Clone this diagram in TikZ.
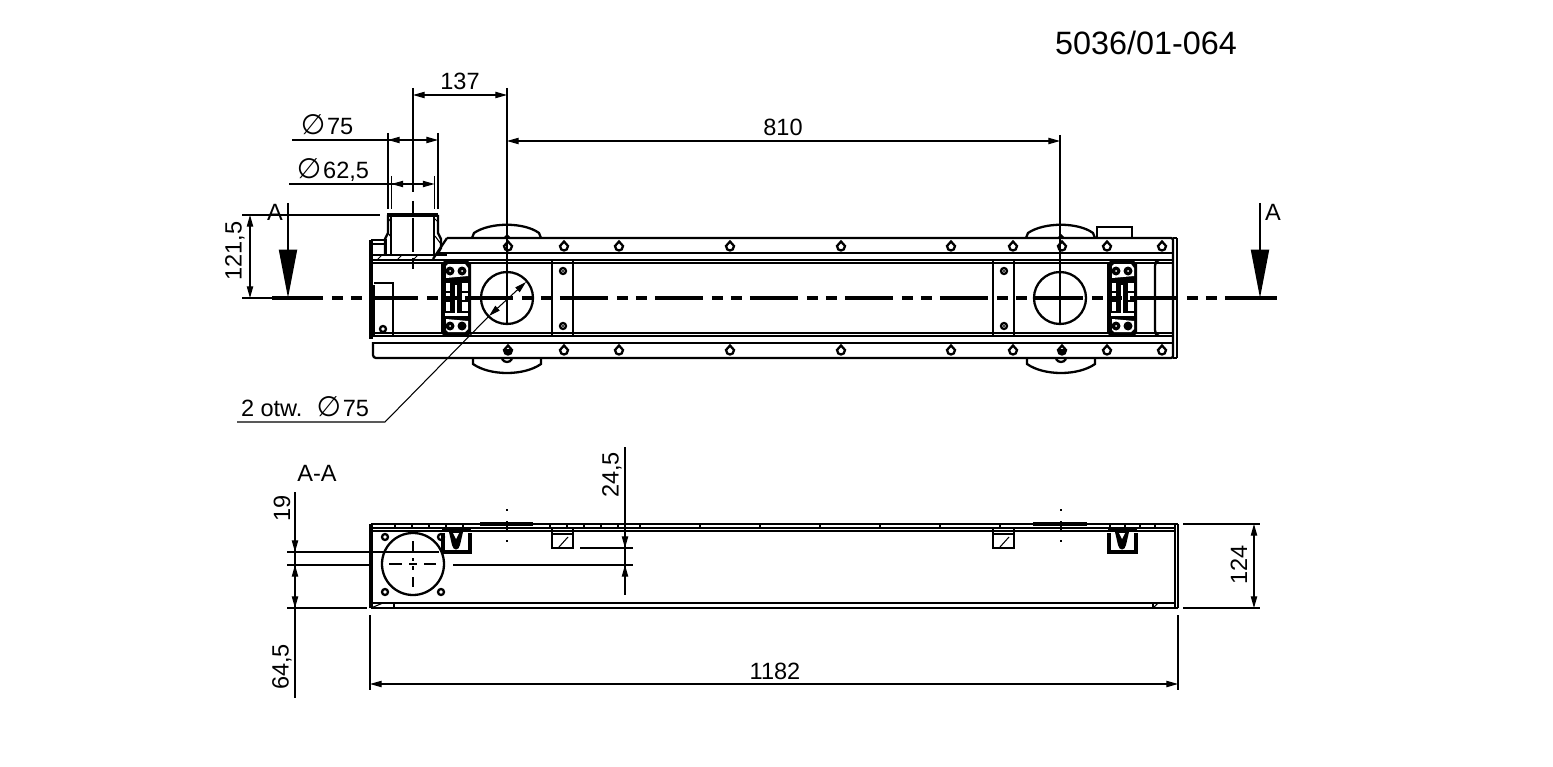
\documentclass[tikz,border=0pt]{standalone}
\usepackage{fontspec}
\setmainfont{Liberation Sans}
\newfontfamily\symfont{DejaVu Sans}
\usetikzlibrary{arrows.meta}
\newcommand{\dia}{{\fontsize{16}{15}\selectfont\symfont\char"2205}}
\tikzset{
  geom/.style={draw=black, line width=1.3pt},
  heavy/.style={draw=black, line width=2.1pt},
  helper/.style={draw=black, line width=0.6pt},
  axisln/.style={draw=black, line width=1.9pt},
  axisdash/.style={axisln, dash pattern=on 27.32pt off 5.12pt on 6.26pt off 4.55pt on 6.26pt off 4.55pt},
  dimln/.style={helper, {Triangle[length=6.6pt,width=3.6pt]}-{Triangle[length=6.6pt,width=3.6pt]}},
  dimend/.style={helper, -{Triangle[length=6.6pt,width=3.6pt]}},
  cutln/.style={draw=black, line width=1.2pt, -{Triangle[length=27.5pt,width=10.2pt]}},
  lab/.style={text=black, font=\fontsize{13.4}{15}\selectfont, inner sep=0pt},
  title/.style={text=black, font=\fontsize{18.4}{20}\selectfont, inner sep=0pt},
}

\begin{document}
\begin{tikzpicture}[x=0.02cm,y=-0.02cm]
\useasboundingbox (0,0) rectangle (1553,767);
\node[title] (drawno) at (1146,43) {5036/01-064};

% top view, rails
\draw[geom] (447,238)--(1171,238) to[out=0,in=90] (1173,240)--(1173,356) to[out=-90,in=0] (1171,358)--(376,358) to[out=180,in=-90] (373,355)--(373,342);
\draw[geom] (1177,238)--(1177,358);
\draw[helper] (1173,238)--(1177,238) (1173,358)--(1177,358);
\draw[geom] (437,253)--(1173,253);
\draw[geom] (372,260)--(1173,260);
\draw[helper] (372,263)--(1173,263);
\draw[helper] (372,333)--(1173,333);
\draw[geom] (372,336)--(1173,336);
\draw[geom] (373,343)--(1173,343);
\draw[geom] (447,238)--(433,259);
\draw[heavy] (371,240)--(371,339);
\draw[geom] (371,240)--(386,240)--(386,255);
\draw[geom] (371,244)--(386,244);
\draw[geom] (371,255)--(447,255);

% inlet stub
\draw[geom] (385,255)--(385,239)--(388,233)--(388,215);
\draw[heavy] (387,215)--(438,215);
\draw[geom] (438,215)--(438,233)--(441,239)--(441,248)--(437,255);
\draw[geom] (391,215)--(391,255);
\draw[geom] (434,215)--(434,255);
\draw[helper] (388,218)--(391,222) (388,233)--(391,237) (434,218)--(438,222) (435,236)--(441,244);
\draw[helper] (382,255)--(377,260) (402,255)--(397,260) (418,255)--(413,260);

% side details
\draw[helper] (374,283)--(393,283)--(393,336);
\draw[geom] (374,285)--(374,336);
\draw[geom] (383,329) circle (3);
\draw[geom] (1159,336) to[out=180,in=-90] (1155,330)--(1155,266) to[out=90,in=180] (1159,260);
\draw[geom] (1097,238)--(1097,227)--(1132,227)--(1132,238);

% plates and bolts
\foreach \px in {552,993} {
  \draw[geom] (\px,260) rectangle (\px+21,336);
  \foreach \py in {271,326} {
    \draw[geom] (\px+11,\py) circle (3);
    \fill (\px+11,\py) circle (1.2);
  }
}
\draw[geom] (507,298) circle (26);
\draw[geom] (1060,298) circle (26);

% handles
\foreach \cx in {0,666} {
\begin{scope}[shift={(\cx,0)}]
  \fill[black] (441,264)--(444,261)--(468,261)--(471,264)--(471,333)--(468,336)--(444,336)--(441,333)--cycle;
  \fill[white] (446,266)--(448,264)--(465,264)--(468,268)--(468,276)--(446,278)--cycle;
  \fill[white] (446,319)--(468,321)--(468,329)--(465,332)--(448,332)--(446,330)--cycle;
  \foreach \hy/\hh in {283/8,293/7,302/9} {
    \fill[white] (446,\hy) rectangle (450,\hy+\hh);
    \fill[white] (462,\hy) rectangle (468,\hy+\hh);
  }
  \fill[white] (445,313) rectangle (468,316);
  \fill[white] (455,285) rectangle (457,314);
  \foreach \bx in {450,462} {
    \foreach \by in {271,326} {
      \fill[black] (\bx,\by) circle (4.5);
    }
    \fill[white] (\bx,271) circle (1);
  }
  \fill[white] (450,326) circle (1);
\end{scope}
}

% rail holes and hold-down lugs
\foreach \hx in {508,564,619,730,841,951,1013,1062,1107,1162} {
  \draw[geom] (\hx,241.5)--(\hx+4,246) .. controls (\hx+4,252) and (\hx-4,252) .. (\hx-4,246)--cycle;
  \draw[geom] (\hx,345.5)--(\hx+4,350) .. controls (\hx+4,356) and (\hx-4,356) .. (\hx-4,350)--cycle;
}
\foreach \lx in {0,554} {
\begin{scope}[shift={(\lx,0)}]
  \draw[geom] (472,238)--(474,233) .. controls (490,222) and (524,222) .. (539,233)--(541,238);
  \draw[geom] (473,359)--(473,364) .. controls (490,376) and (524,376) .. (541,364)--(541,359);
  \fill[black] (503,238)--(507,234)--(511,238)--cycle;
  \draw[geom] (502,359) .. controls (504,363) and (510,363) .. (512,359);
  \fill[black] (504,349) rectangle (512,353);
\end{scope}
}

% centre line and cut arrows
\draw[axisdash] (275,298)--(1225,298);
\draw[axisln] (272,298)--(323,298);
\draw[axisln] (1225,298)--(1277,298);
\draw[cutln] (288,203)--(288,298);
\draw[cutln] (1260,203)--(1260,298);
\node[lab] (cutl) at (275,212) {A};
\node[lab] (cutr) at (1273,212) {A};

% dimensions, top view
\draw[helper] (413,88)--(413,192);
\draw[helper] (413,201)--(413,213) (413,218)--(413,252) (413,258)--(413,269);
\draw[helper] (507,88)--(507,325);
\draw[helper] (1060,135)--(1060,323);
\draw[dimln] (413,95)--(507,95);
\node[lab] (d137) at (460,81) {137};
\draw[dimln] (507,141)--(1060,141);
\node[lab] (d810) at (783,127) {810};
\draw[helper] (388,133)--(388,209) (438,133)--(438,209);
\draw[dimend] (292,140)--(438,140);
\draw[dimend] (413,140)--(388,140);
\node[lab] (d75) at (327,125) {\dia\hspace{1pt}75};
\draw[helper] (391.5,176)--(391.5,209) (434.5,176)--(434.5,209);
\draw[dimend] (289,184)--(434.5,184);
\draw[dimend] (413,184)--(391.5,184);
\node[lab] (d625) at (333,170) {\dia\hspace{1pt}62,5};
\draw[helper] (242,215)--(380,215);
\draw[dimln] (250,215)--(250,298);
\draw[helper] (242,298)--(272,298);
\node[lab, rotate=90] (d1215) at (235,251) {121,5};
\draw[dimln] (489,316)--(526,282);
\draw[helper] (489,316)--(385,422)--(237,422);
\node[lab] (dholes) at (305,407) {2 otw.\hspace{8pt}\dia\hspace{1pt}75};

% section A-A
\node[lab] (secname) at (317,473) {A-A};
\draw[heavy] (371,524)--(371,608);
\draw[geom] (371,524)--(1178,524);
\draw[geom] (371,528)--(1175,528);
\draw[geom] (371,531)--(1175,531);
\draw[geom] (371,603)--(1175,603);
\draw[geom] (371,608)--(1178,608);
\draw[geom] (1175,524)--(1175,608);
\draw[geom] (1178,524)--(1178,608);
\draw[heavy] (480,524)--(533,524);
\draw[heavy] (1033,524)--(1087,524);
\foreach \tx in {395,412,429,446,463,550,567,584,601,618,640,700,760,820,880,940,1000,1110,1125,1140,1155} {
  \draw[helper] (\tx,524)--(\tx,528);
}
\draw[geom] (394,603)--(394,608);
\draw[helper] (371,608)--(383,603);
\draw[geom] (1153,603)--(1153,608);
\draw[helper] (1153,608)--(1158,603);
\draw[geom] (413,564) circle (31);
\foreach \sx/\sy in {385/537,441/537,385/592,441/592} {
  \draw[geom] (\sx,\sy) circle (3);
}
\draw[helper] (413,541)--(413,551) (413,558)--(413,561) (413,566)--(413,570) (413,577)--(413,587);
\draw[helper] (389,564)--(402,564) (409,564)--(417,564) (424,564)--(436,564);
\foreach \cx in {0,666} {
\begin{scope}[shift={(\cx,0)}]
  \draw[heavy] (443,533)--(443,552)--(470,552)--(470,533);
  \fill[black] (442,528) rectangle (471,532);
  \fill[black] (449,532)--(463,532)--(460,545) .. controls (459,551) and (453,551) .. (452,545)--cycle;
  \fill[white] (453,533)--(459,533)--(456,539)--cycle;
\end{scope}
}
\foreach \px in {552,993} {
  \draw[geom] (\px,528)--(\px,548)--(\px+21,548)--(\px+21,528);
  \draw[geom] (\px,534)--(\px+21,534);
  \draw[helper] (\px+7,547)--(\px+16,537);
}
\foreach \mx in {507,1061} {
  \draw[helper] (\mx,509)--(\mx,511) (\mx,521)--(\mx,531) (\mx,540)--(\mx,542);
}

% dimensions, section
\draw[helper] (287,552)--(439,552);
\draw[helper] (287,565)--(371,565);
\draw[helper] (453,565)--(633,565);
\draw[helper] (580,548)--(633,548);
\draw[helper] (287,608)--(367,608);
\draw[helper] (295,492)--(295,698);
\draw[dimend] (295,530)--(295,552);
\draw[dimend] (295,585)--(295,565);
\draw[dimend] (295,585)--(295,608);
\node[lab, rotate=90] (d19) at (282,508) {19};
\node[lab, rotate=90] (d645) at (282,667) {64,5};
\draw[helper] (625,447)--(625,595);
\draw[dimend] (625,530)--(625,548);
\draw[dimend] (625,585)--(625,565);
\node[lab, rotate=90] (d245) at (612,475) {24,5};
\draw[helper] (1183,524)--(1260,524) (1183,608)--(1260,608);
\draw[dimln] (1254,524)--(1254,608);
\node[lab, rotate=90] (d124) at (1239,565) {124};
\draw[helper] (370,615)--(370,690) (1178,615)--(1178,690);
\draw[dimln] (370,684)--(1178,684);
\node[lab] (d1182) at (775,671) {1182};
\end{tikzpicture}
\end{document}
